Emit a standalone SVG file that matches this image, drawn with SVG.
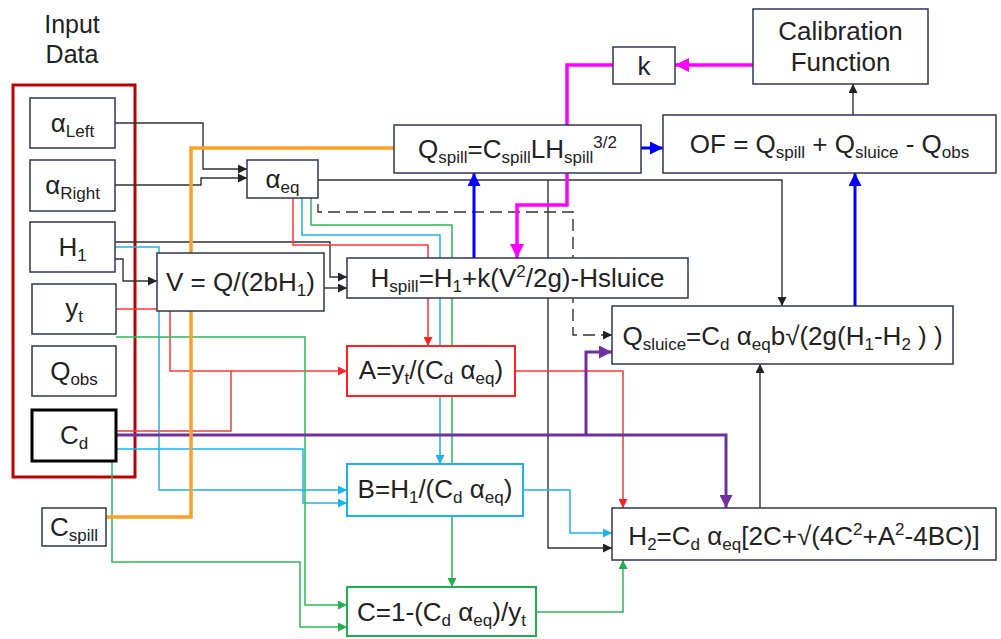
<svg xmlns="http://www.w3.org/2000/svg" width="1001" height="639" viewBox="0 0 1001 639">
<style>
.t{font-family:"Liberation Sans",Arial,sans-serif;font-size:26px;fill:#222;text-anchor:middle}
.s{font-size:17px}
.n{fill:#fff;stroke:#2e3656;stroke-width:1.5}
.k{fill:none;stroke:#333;stroke-width:1.4}
.r{fill:none;stroke:#ff3535;stroke-width:1.5}
.c{fill:none;stroke:#1cb2f0;stroke-width:1.5}
.g{fill:none;stroke:#2fb85a;stroke-width:1.5}
.p{fill:none;stroke:#7030a0;stroke-width:3}
.o{fill:none;stroke:#ffa020;stroke-width:3.5}
.b{fill:none;stroke:#0000ff;stroke-width:3}
.m{fill:none;stroke:#ff00ff;stroke-width:3.5}
</style>
<defs>
<marker id="ak" viewBox="0 0 10 10" refX="10" refY="5" markerWidth="11" markerHeight="9" markerUnits="userSpaceOnUse" orient="auto"><path d="M0,0L10,5L0,10z" fill="#222"/></marker>
<marker id="ar" viewBox="0 0 10 10" refX="10" refY="5" markerWidth="11" markerHeight="9" markerUnits="userSpaceOnUse" orient="auto"><path d="M0,0L10,5L0,10z" fill="#ff2020"/></marker>
<marker id="ac" viewBox="0 0 10 10" refX="10" refY="5" markerWidth="11" markerHeight="9" markerUnits="userSpaceOnUse" orient="auto"><path d="M0,0L10,5L0,10z" fill="#1cb2f0"/></marker>
<marker id="ag" viewBox="0 0 10 10" refX="10" refY="5" markerWidth="11" markerHeight="9" markerUnits="userSpaceOnUse" orient="auto"><path d="M0,0L10,5L0,10z" fill="#20b050"/></marker>
<marker id="ap" viewBox="0 0 10 10" refX="10" refY="5" markerWidth="14" markerHeight="13" markerUnits="userSpaceOnUse" orient="auto"><path d="M0,0L10,5L0,10z" fill="#7030a0"/></marker>
<marker id="ab" viewBox="0 0 10 10" refX="10" refY="5" markerWidth="14" markerHeight="13" markerUnits="userSpaceOnUse" orient="auto"><path d="M0,0L10,5L0,10z" fill="#0000ff"/></marker>
<marker id="am" viewBox="0 0 10 10" refX="10" refY="5" markerWidth="15" markerHeight="14" markerUnits="userSpaceOnUse" orient="auto"><path d="M0,0L10,5L0,10z" fill="#ff00ff"/></marker>
</defs>
<rect width="1001" height="639" fill="#fff"/>

<g id="input-data">
<text class="t" x="72" y="33" style="font-size:25px">Input</text>
<text class="t" x="72" y="63" style="font-size:25px">Data</text>
<rect x="13" y="85" width="122" height="392" fill="none" stroke="#c00000" stroke-width="3"/>
</g>

<g id="connectors">
<path class="k" d="M115,123H203V169H247" marker-end="url(#ak)"/>
<path class="k" d="M115,185H201V178H247" marker-end="url(#ak)"/>
<path class="k" d="M318,180H782V306" marker-end="url(#ak)"/>
<path class="k" d="M548,180V548H612" marker-end="url(#ak)"/>
<path class="k" d="M115,242H330V277H347" marker-end="url(#ak)"/>
<path class="k" d="M324,288H347" marker-end="url(#ak)"/>
<path class="k" d="M115,259H123V281H157" marker-end="url(#ak)"/>
<path class="k" d="M853,115V84" marker-end="url(#ak)"/>
<path class="k" d="M760,508V364" marker-end="url(#ak)"/>
<path class="k" d="M318,204V212H573V335H612" stroke-width="1.6" stroke-dasharray="12,6" marker-end="url(#ak)"/>

<path class="r" d="M293,198V245H428V346" marker-end="url(#ar)"/>
<path class="r" d="M116,309H170V371H347" marker-end="url(#ar)"/>
<path class="r" d="M116,431H231V371"/>
<path class="r" d="M515,371H623V508" marker-end="url(#ar)"/>

<path class="c" d="M302,198V235H440V464" marker-end="url(#ac)"/>
<path class="c" d="M115,247H159V490H347" marker-end="url(#ac)"/>
<path class="c" d="M116,449H303V503H347" marker-end="url(#ac)"/>
<path class="c" d="M523,490H570V533H612" marker-end="url(#ac)"/>

<path class="g" d="M311,198V225H452V587" marker-end="url(#ag)"/>
<path class="g" d="M116,337H305V605H347" marker-end="url(#ag)"/>
<path class="g" d="M112,461V562H300V627H347" marker-end="url(#ag)"/>
<path class="g" d="M536,612H623V560" marker-end="url(#ag)"/>

<path class="p" d="M116,435H726V508" marker-end="url(#ap)"/>
<path class="p" d="M586,435V352H612" marker-end="url(#ap)"/>

<path class="o" d="M106,517H191V148H394"/>

<path class="b" d="M474,258V173" marker-end="url(#ab)"/>
<path class="b" d="M641,148H663" marker-end="url(#ab)"/>
<path class="b" d="M855,306V173" marker-end="url(#ab)"/>

<path class="m" d="M753,65H675" marker-end="url(#am)"/>
<path class="m" d="M613,65H567V205H517V258" marker-end="url(#am)"/>
</g>

<g id="alpha-left"><rect class="n" x="30" y="98" width="85" height="50"/><text class="t" x="72.5" y="132">α<tspan class="s" dy="5">Left</tspan></text></g>
<g id="alpha-right"><rect class="n" x="30" y="160" width="85" height="51"/><text class="t" x="72.5" y="194">α<tspan class="s" dy="5">Right</tspan></text></g>
<g id="h1"><rect class="n" x="30" y="222" width="85" height="50"/><text class="t" x="72.5" y="256">H<tspan class="s" dy="5">1</tspan></text></g>
<g id="yt"><rect class="n" x="32" y="284" width="84" height="50"/><text class="t" x="74" y="317">y<tspan class="s" dy="5">t</tspan></text></g>
<g id="qobs"><rect class="n" x="32" y="346" width="84" height="50"/><text class="t" x="74" y="380">Q<tspan class="s" dy="5">obs</tspan></text></g>
<g id="cd"><rect x="32" y="410" width="84" height="51" fill="#fff" stroke="#000" stroke-width="3"/><text class="t" x="74" y="444">C<tspan class="s" dy="5">d</tspan></text></g>
<g id="cspill"><rect class="n" x="42" y="508" width="64" height="38"/><text class="t" x="74" y="536">C<tspan class="s" dy="5">spill</tspan></text></g>

<g id="alpha-eq"><rect class="n" x="247" y="160" width="71" height="38"/><text class="t" x="282.5" y="188">α<tspan class="s" dy="5">eq</tspan></text></g>
<g id="v"><rect class="n" x="157" y="253" width="167" height="58"/><text class="t" x="240.5" y="291">V = Q/(2bH<tspan class="s" dy="5">1</tspan><tspan dy="-5">)</tspan></text></g>

<g id="qspill"><rect class="n" x="394" y="125" width="247" height="48"/><text class="t" x="517.5" y="158">Q<tspan class="s" dy="5">spill</tspan><tspan dy="-5">=C</tspan><tspan class="s" dy="5">spill</tspan><tspan dy="-5">LH</tspan><tspan class="s" dy="5">spill</tspan><tspan class="s" dy="-15">3/2</tspan></text></g>
<g id="k"><rect class="n" x="613" y="47" width="62" height="37"/><text class="t" x="644" y="75">k</text></g>
<g id="calibration"><rect class="n" x="753" y="9" width="175" height="75"/><text class="t" x="840.5" y="40">Calibration</text><text class="t" x="840.5" y="71">Function</text></g>
<g id="of"><rect class="n" x="663" y="115" width="333" height="58"/><text class="t" x="829.5" y="153">OF = Q<tspan class="s" dy="5">spill</tspan><tspan dy="-5"> + Q</tspan><tspan class="s" dy="5">sluice</tspan><tspan dy="-5"> - Q</tspan><tspan class="s" dy="5">obs</tspan></text></g>

<g id="hspill"><rect class="n" x="347" y="258" width="341" height="40"/><text class="t" x="517.5" y="287">H<tspan class="s" dy="5">spill</tspan><tspan dy="-5">=H</tspan><tspan class="s" dy="5">1</tspan><tspan dy="-5">+k(V</tspan><tspan class="s" dy="-10">2</tspan><tspan dy="10">/2g)-Hsluice</tspan></text></g>
<g id="qsluice"><rect class="n" x="612" y="306" width="341" height="58"/><text class="t" x="782.5" y="345">Q<tspan class="s" dy="5">sluice</tspan><tspan dy="-5">=C</tspan><tspan class="s" dy="5">d</tspan><tspan dy="-5"> α</tspan><tspan class="s" dy="5">eq</tspan><tspan dy="-5">b√(2g(H</tspan><tspan class="s" dy="5">1</tspan><tspan dy="-5">-H</tspan><tspan class="s" dy="5">2</tspan><tspan dy="-5"> ) )</tspan></text></g>

<g id="a"><rect x="347" y="346" width="168" height="50" fill="#fff" stroke="#ff2020" stroke-width="2"/><text class="t" x="431" y="379">A=y<tspan class="s" dy="5">t</tspan><tspan dy="-5">/(C</tspan><tspan class="s" dy="5">d</tspan><tspan dy="-5"> α</tspan><tspan class="s" dy="5">eq</tspan><tspan dy="-5">)</tspan></text></g>
<g id="b"><rect x="347" y="464" width="176" height="52" fill="#fff" stroke="#1cb2f0" stroke-width="2"/><text class="t" x="435" y="498">B=H<tspan class="s" dy="5">1</tspan><tspan dy="-5">/(C</tspan><tspan class="s" dy="5">d</tspan><tspan dy="-5"> α</tspan><tspan class="s" dy="5">eq</tspan><tspan dy="-5">)</tspan></text></g>
<g id="c"><rect x="347" y="587" width="189" height="49" fill="#fff" stroke="#20b050" stroke-width="2"/><text class="t" x="441.5" y="621">C=1-(C<tspan class="s" dy="5">d</tspan><tspan dy="-5"> α</tspan><tspan class="s" dy="5">eq</tspan><tspan dy="-5">)/y</tspan><tspan class="s" dy="5">t</tspan></text></g>
<g id="h2"><rect class="n" x="612" y="508" width="384" height="52"/><text class="t" x="804" y="545">H<tspan class="s" dy="5">2</tspan><tspan dy="-5">=C</tspan><tspan class="s" dy="5">d</tspan><tspan dy="-5"> α</tspan><tspan class="s" dy="5">eq</tspan><tspan dy="-5">[2C+√(4C</tspan><tspan class="s" dy="-10">2</tspan><tspan dy="10">+A</tspan><tspan class="s" dy="-10">2</tspan><tspan dy="10">-4BC)]</tspan></text></g>
</svg>
